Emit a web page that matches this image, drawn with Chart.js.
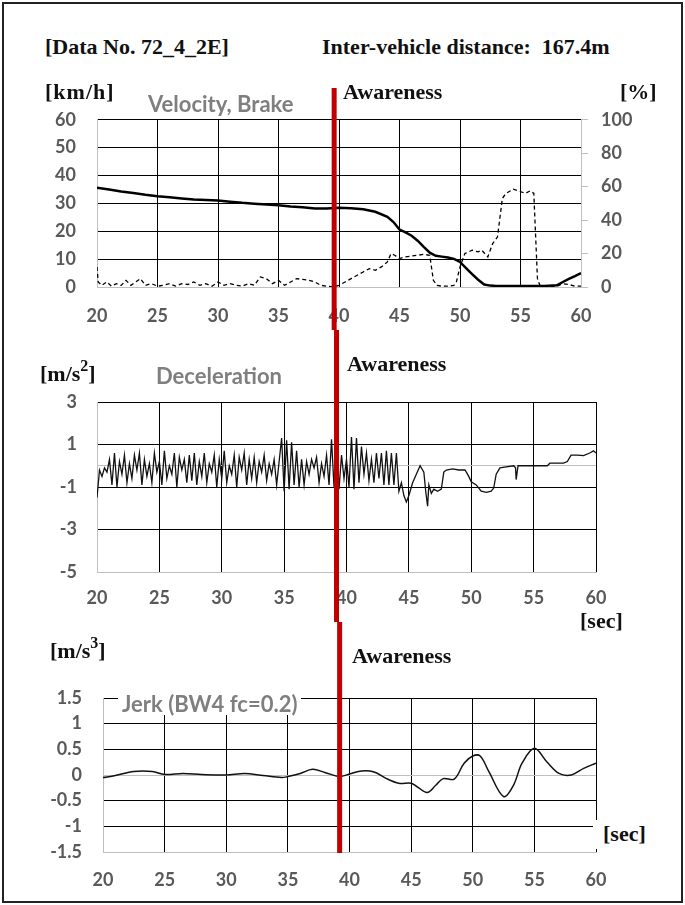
<!DOCTYPE html>
<html>
<head>
<meta charset="utf-8">
<script src="https://cdn.jsdelivr.net/npm/chart.js@4.4.0/dist/chart.umd.min.js"></script>
<style>
  html, body { margin: 0; padding: 0; background: #fff; }
  body { width: 685px; height: 905px; position: relative; overflow: hidden; }
  .frame { position: absolute; left: 2px; top: 2px; width: 677px; height: 897px; border: 2px solid #222; }
  .panel { position: absolute; left: 0; }
  .lbl { position: absolute; z-index: 2; white-space: nowrap; line-height: 1;
         font-family: "Liberation Serif", serif; font-weight: bold; font-size: 22px; color: #111; }
  .ttl { position: absolute; z-index: 2; white-space: nowrap; line-height: 1;
         font-family: Lato, sans-serif; font-weight: bold; font-size: 22px; color: #7f7f7f; }
  .lbl sup { font-size: 16px; position: relative; top: -2px; }
  .white { background: #fff; }
</style>
</head>
<body>
<div class="frame"></div>

<div class="lbl" style="left:45px; top:36px;">[Data No. 72_4_2E]</div>
<div class="lbl" style="left:322px; top:36px;">Inter-vehicle distance:&nbsp; 167.4m</div>

<div class="lbl" style="left:45px; top:81px; letter-spacing:1px;">[km/h]</div>
<div class="ttl" style="left:148px; top:93px;">Velocity, Brake</div>
<div class="lbl" style="left:343px; top:81px;">Awareness</div>
<div class="lbl" style="left:620px; top:81px;">[%]</div>

<div class="lbl" style="left:40px; top:360px;">[m/s<sup>2</sup>]</div>
<div class="ttl" style="left:156px; top:365px;">Deceleration</div>
<div class="lbl" style="left:347px; top:353px;">Awareness</div>
<div class="lbl" style="left:580px; top:610px;">[sec]</div>

<div class="lbl" style="left:50px; top:637px;">[m/s<sup>3</sup>]</div>
<div class="lbl" style="left:352px; top:645px;">Awareness</div>
<div class="ttl white" style="left:118px; top:693px; padding:0 4px;">Jerk (BW4 fc=0.2)</div>
<div class="lbl white" style="left:593px; top:820px; padding:3px 10px 4px 10px;">[sec]</div>

<div class="panel" style="top:88px;"><canvas id="velChart" width="685" height="242"></canvas></div>
<div class="panel" style="top:330px;"><canvas id="decelChart" width="685" height="292"></canvas></div>
<div class="panel" style="top:622px;"><canvas id="jerkChart" width="685" height="275"></canvas></div>

<script>
// axis ticks
const timeTicks = [20, 25, 30, 35, 40, 45, 50, 55, 60];
const velTicks = [0, 10, 20, 30, 40, 50, 60];
const brakeTicks = [0, 20, 40, 60, 80, 100];
const decelTicks = [-5, -3, -1, 1, 3];
const jerkTicks = [-1.5, -1, -0.5, 0, 0.5, 1, 1.5];

// driver awareness moment [sec], read per panel
const awarenessVel = 39.6;
const awarenessDecel = 39.2;
const awarenessJerk = 39.2;

// velocity [km/h]
const velTime = [20, 21, 22, 23, 24, 25, 26, 27, 28, 29, 30, 31, 32, 33, 34, 35, 36, 37, 38, 39,
  40, 41, 42, 43, 44, 44.5, 45, 45.5, 46, 46.5, 47, 47.5, 48, 48.5, 49, 49.5, 50, 50.5, 51, 51.5,
  52, 52.5, 53, 54, 55, 56, 57, 58, 58.5, 59, 59.5, 60];
const velValue = [35.6, 35.0, 34.3, 33.7, 33.1, 32.6, 32.2, 31.8, 31.4, 31.2, 31.0, 30.6, 30.2, 29.9, 29.6, 29.3, 28.9, 28.6, 28.2, 28.2,
  28.4, 28.3, 27.9, 27.0, 25.2, 23.3, 20.6, 19.6, 18.4, 16.6, 14.4, 12.3, 11.2, 10.9, 10.6, 10.1, 9.0, 6.8, 4.6, 2.6,
  0.9, 0.5, 0.4, 0.4, 0.4, 0.4, 0.4, 0.6, 1.8, 2.9, 3.9, 5.0];

// brake [%]
const brakeTime = [20, 20.1, 20.4, 20.8, 21.2, 21.6, 22, 22.4, 22.8, 23.2, 23.6, 24, 24.5, 25, 25.5, 26, 26.5, 27, 27.5, 28,
  28.5, 29, 29.5, 30, 30.5, 31, 31.5, 32, 32.5, 33, 33.5, 34, 34.5, 35, 35.5, 36, 36.5, 37, 37.5, 38,
  38.5, 39, 39.5, 40, 40.5, 41, 41.5, 42, 42.5, 43, 43.5, 44, 44.3, 44.6, 45, 45.5, 46, 46.5, 47, 47.5,
  47.8, 48.1, 48.5, 49, 49.5, 49.7, 50, 50.4, 51, 51.5, 51.8, 52.3, 52.7, 53.1, 53.5, 53.8, 54.4, 55, 55.4, 55.8,
  56.1, 56.4, 56.6, 57, 58, 58.5, 59, 59.5, 60];
const brakeValue = [12, 3, 1, 3, 0.5, 2, 1, 4, 1, 3, 5, 1, 2, 0.5, 1, 2, 0.5, 2, 1.5, 3,
  1, 2, 0.5, 3, 1, 2, 1, 0.5, 2, 1, 6, 5, 2, 4, 1, 3, 5, 4.5, 4, 3,
  1, 0.5, 0, 1, 3, 5, 7, 9, 11, 10, 12, 15, 20, 19, 17, 18, 18.5, 19, 19.5, 19,
  4, 1, 0.5, 0.5, 1, 3, 12, 20, 22, 21, 22, 18, 26, 30, 53, 56, 58.5, 57, 56, 57.5,
  56, 5, 1, 0.3, 0.3, 2, 1.5, 0.5, 0.5];

// deceleration [m/s2]
const decelTime = [20, 20.2, 20.4, 20.6, 20.8, 21, 21.2, 21.4, 21.6, 21.8,
  22, 22.2, 22.4, 22.6, 22.8, 23, 23.2, 23.4, 23.6, 23.8,
  24, 24.2, 24.4, 24.6, 24.8, 25, 25.2, 25.4, 25.6, 25.8,
  26, 26.2, 26.4, 26.6, 26.8, 27, 27.2, 27.4, 27.6, 27.8,
  28, 28.2, 28.4, 28.6, 28.8, 29, 29.2, 29.4, 29.6, 29.8,
  30, 30.2, 30.4, 30.6, 30.8, 31, 31.2, 31.4, 31.6, 31.8,
  32, 32.2, 32.4, 32.6, 32.8, 33, 33.2, 33.4, 33.6, 33.8,
  34, 34.2, 34.4, 34.6, 34.8, 35, 35.2, 35.4, 35.6, 35.8,
  36, 36.2, 36.4, 36.6, 36.8, 37, 37.2, 37.4, 37.6, 37.8,
  38, 38.2, 38.4, 38.6, 38.8, 39, 39.2, 39.4, 39.6, 39.8,
  40, 40.2, 40.4, 40.6, 40.8, 41, 41.2, 41.4, 41.6, 41.8,
  42, 42.2, 42.4, 42.6, 42.8, 43, 43.2, 43.4, 43.6, 43.8,
  44, 44.2, 44.4, 44.6, 44.8, 45, 45.3, 45.6, 45.9, 46.2, 46.35,
  46.5, 46.6, 46.8, 47, 47.3, 47.6, 47.8, 48, 48.5, 49,
  49.5, 49.8, 50, 50.4, 50.8, 51.2, 51.6, 51.8, 52, 52.3,
  52.8, 53.4, 53.55, 53.6, 53.75, 54.5, 55.5, 56.1, 56.3, 57.4,
  57.7, 58, 58.5, 59, 59.5, 59.8, 60];
const decelValue = [-1.5, -0.2, -0.5, -0.1, -0.3, 0.3, -0.9, 0.6, -1.0, 0.2,
  -0.4, 0.5, -0.8, 0.1, -0.6, 0.5, -0.2, 0.6, -0.9, 0.3,
  -0.5, 0.1, -0.8, 0.6, -0.3, 0.2, -0.9, 0.7, -0.6, 0.0,
  -0.4, 0.6, -1.0, 0.4, -0.2, 0.3, -0.8, 0.5, -0.7, 0.6,
  -0.9, 0.2, -0.5, 0.6, -0.8, 0.1, -0.3, 0.5, -1.0, 0.3,
  -0.6, 0.7, -0.8, 0.0, -0.4, 0.5, -1.0, 0.4, -0.2, 0.6,
  -0.9, 0.3, -0.6, 0.4, -0.8, 0.2, -0.3, 0.5, -0.7, 0.1,
  -0.4, 0.3, -0.9, 0.2, 1.3, -1.2, 1.2, -1.1, 1.1, -0.9,
  0.7, -1.0, 0.3, -0.9, 0.2, -0.4, 0.3, -0.1, 0.4, -0.8,
  0.1, -0.5, 0.5, -0.9, 1.25, -1.0, 1.1, -1.1, 0.5, -0.6,
  0.3, -1.0, 1.35, -1.1, 1.3, -0.8, 0.9, -0.4, 0.6, -0.7,
  0.3, -0.8, 0.6, -0.6, 0.6, -0.9, 0.7, -0.9, 0.6, -0.9,
  0.6, -1.2, -0.8, -1.4, -1.7, -1.4, -0.8, -0.4, 0.0, -0.3, -1.2,
  -1.9, -0.9, -1.3, -1.1, -1.2, -1.1, -0.3, -0.2, -0.15, -0.2,
  -0.2, -0.5, -0.75, -0.9, -1.2, -1.25, -1.2, -1.05, -0.4, -0.1,
  -0.05, 0.0, -0.1, -0.65, 0.0, 0.0, 0.0, 0.0, 0.12, 0.12,
  0.2, 0.5, 0.5, 0.48, 0.6, 0.7, 0.6];

// jerk [m/s3], BW4 fc=0.2
const jerkTime = [20, 21, 22.5, 24, 25, 26.5, 28, 30, 31.5, 33, 34.5, 35, 36, 37, 38, 39.2, 40, 41, 42, 43,
  44, 45, 45.5, 46.3, 47, 47.6, 48.5, 49.3, 50, 50.6, 51.3, 52.5, 53.3, 54, 55, 56, 57, 58, 59, 60];
const jerkValue = [-0.05, -0.01, 0.07, 0.07, 0.01, 0.03, 0.01, 0, 0.03, -0.01, -0.05, -0.03, 0.03, 0.11, 0.05, -0.03, 0.02, 0.08, 0.06, -0.07,
  -0.16, -0.16, -0.23, -0.34, -0.2, -0.07, -0.08, 0.23, 0.37, 0.37, 0.07, -0.42, -0.2, 0.23, 0.52, 0.26, 0.03, 0, 0.13, 0.23];

const BLACK = "#000000";
const GREY = "#bfbfbf";
const TICK_COLOR = "#595959";
const tickFont = { family: "Lato", weight: "bold", size: 18 };

const toPoints = (xs, ys) => xs.map((x, i) => ({ x: x, y: ys[i] }));

// red vertical marker at the awareness moment
const awarenessLine = {
  id: "awarenessLine",
  afterDraw(chart, args, opts) {
    const { ctx, chartArea } = chart;
    const x = chart.scales.x.getPixelForValue(opts.time);
    const yTop = opts.fromCanvasTop ? 0 : chartArea.top;
    const yBottom = opts.toCanvasBottom ? chart.height : chartArea.bottom + 1;
    ctx.save();
    ctx.strokeStyle = "#c00000";
    ctx.lineWidth = 5;
    ctx.beginPath();
    ctx.moveTo(x, yTop);
    ctx.lineTo(x, yBottom);
    ctx.stroke();
    ctx.restore();
  },
};

function timeAxis(height, padding) {
  return {
    type: "linear",
    min: 20,
    max: 60,
    afterBuildTicks: (s) => {
      s.ticks = timeTicks.map((v) => ({ value: v }));
    },
    afterFit: (s) => {
      s.height = height;
    },
    grid: {
      color: (c) => (c.tick && c.tick.value === 20 ? GREY : BLACK),
      drawTicks: false,
    },
    border: { color: GREY },
    ticks: { font: tickFont, color: TICK_COLOR, padding: padding, maxRotation: 0, autoSkip: false },
  };
}

function valueAxis(tickList, width, padding, zeroGrey, labelled) {
  return {
    type: "linear",
    position: "left",
    min: tickList[0],
    max: tickList[tickList.length - 1],
    afterBuildTicks: (s) => {
      s.ticks = tickList.map((v) => ({ value: v }));
    },
    afterFit: (s) => {
      s.width = width;
    },
    grid: {
      color: (c) => (c.tick && c.tick.value === zeroGrey ? GREY : BLACK),
      drawTicks: false,
    },
    border: { color: GREY },
    ticks: {
      font: tickFont,
      color: TICK_COLOR,
      padding: padding,
      autoSkip: false,
      callback: (v) => (labelled.includes(v) ? String(v) : ""),
    },
  };
}

const commonOptions = {
  responsive: false,
  animation: false,
  events: [],
};

const velChart = new Chart(document.getElementById("velChart"), {
  type: "line",
  data: {
    datasets: [
      {
        label: "Velocity",
        data: toPoints(velTime, velValue),
        yAxisID: "y",
        borderColor: BLACK,
        borderWidth: 2.5,
        pointRadius: 0,
        tension: 0,
      },
      {
        label: "Brake",
        data: toPoints(brakeTime, brakeValue),
        yAxisID: "y2",
        borderColor: BLACK,
        borderWidth: 1.3,
        borderDash: [4, 3],
        pointRadius: 0,
        tension: 0,
      },
    ],
  },
  options: {
    ...commonOptions,
    layout: { padding: { top: 31, left: 0, right: 0, bottom: 0 } },
    scales: {
      x: timeAxis(43, 18),
      y: valueAxis(velTicks, 97, 21, 0, velTicks),
      y2: {
        type: "linear",
        position: "right",
        min: 0,
        max: 100,
        afterBuildTicks: (s) => {
          s.ticks = brakeTicks.map((v) => ({ value: v }));
        },
        afterFit: (s) => {
          s.width = 104;
        },
        grid: { drawOnChartArea: false, color: GREY, tickLength: 7 },
        border: { color: GREY },
        ticks: { font: tickFont, color: TICK_COLOR, padding: 13, callback: (v) => String(v) },
      },
    },
    plugins: {
      legend: { display: false },
      tooltip: { enabled: false },
      awarenessLine: { time: awarenessVel, fromCanvasTop: true, toCanvasBottom: true },
    },
  },
  plugins: [awarenessLine],
});

const decelChart = new Chart(document.getElementById("decelChart"), {
  type: "line",
  data: {
    datasets: [
      {
        label: "Deceleration",
        data: toPoints(decelTime, decelValue),
        borderColor: "#111111",
        borderWidth: 1.3,
        pointRadius: 0,
        tension: 0,
      },
    ],
  },
  options: {
    ...commonOptions,
    layout: { padding: { top: 72, left: 0, right: 89, bottom: 0 } },
    scales: {
      x: timeAxis(50, 15),
      y: valueAxis([-5, -3, -1, 0, 1, 3], 97, 20, 0, decelTicks),
    },
    plugins: {
      legend: { display: false },
      tooltip: { enabled: false },
      awarenessLine: { time: awarenessDecel, fromCanvasTop: true, toCanvasBottom: true },
    },
  },
  plugins: [awarenessLine],
});

const jerkChart = new Chart(document.getElementById("jerkChart"), {
  type: "line",
  data: {
    datasets: [
      {
        label: "Jerk",
        data: toPoints(jerkTime, jerkValue),
        borderColor: "#111111",
        borderWidth: 1.5,
        pointRadius: 0,
        tension: 0.35,
      },
    ],
  },
  options: {
    ...commonOptions,
    layout: { padding: { top: 76, left: 0, right: 89, bottom: 0 } },
    scales: {
      x: timeAxis(45, 17),
      y: valueAxis(jerkTicks, 103, 21, 0, jerkTicks),
    },
    plugins: {
      legend: { display: false },
      tooltip: { enabled: false },
      awarenessLine: { time: awarenessJerk, fromCanvasTop: true, toCanvasBottom: false },
    },
  },
  plugins: [awarenessLine],
});
</script>
</body>
</html>
